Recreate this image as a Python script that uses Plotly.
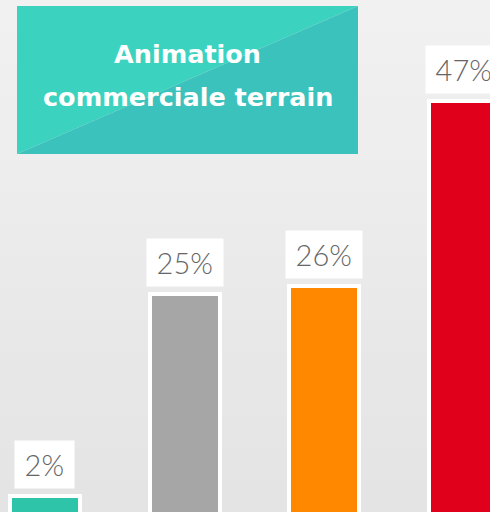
import plotly.graph_objects as go

categories = ["A", "B", "C", "D"]
values = [2, 25, 26, 47]
labels = ["2%", "25%", "26%", "47%"]
colors = ["#2ec4a9", "#a6a6a6", "#ff8800", "#e0001b"]
title_lines = ["Animation", "commerciale terrain"]

W, H = 490, 512


def px_x(p):
    return p / W


def px_y(p):
    return 1 - p / H


fig = go.Figure(
    go.Bar(
        x=categories,
        y=values,
        width=0.5,
        marker=dict(color=colors, line=dict(color="white", width=4)),
        hoverinfo="skip",
    )
)

# background: soft vertical gradient made of bands
shapes = []
n_bands = 16
top, bottom = (0xF1, 0xF1, 0xF1), (0xE4, 0xE4, 0xE4)
for i in range(n_bands):
    t = i / (n_bands - 1)
    c = tuple(round(a + (b - a) * t) for a, b in zip(top, bottom))
    shapes.append(
        dict(
            type="rect", xref="paper", yref="paper", layer="below",
            x0=0, x1=1, y0=1 - (i + 1) / n_bands, y1=1 - i / n_bands,
            fillcolor="rgb(%d,%d,%d)" % c, line_width=0,
        )
    )

# title box, split along its diagonal
bx0, bx1, by0, by1 = px_x(17), px_x(358), px_y(6), px_y(154)
shapes.append(
    dict(
        type="path", xref="paper", yref="paper",
        path=f"M {bx0},{by1} L {bx0},{by0} L {bx1},{by0} Z",
        fillcolor="#3bd3bf", line_width=0,
    )
)
shapes.append(
    dict(
        type="path", xref="paper", yref="paper",
        path=f"M {bx0},{by1} L {bx1},{by1} L {bx1},{by0} Z",
        fillcolor="#3bc2bd", line_width=0,
    )
)

annotations = [
    dict(
        x=c, y=v, text="\u2009" + t + "\u2009", showarrow=False,
        yanchor="bottom", yshift=7, bgcolor="white", borderpad=6,
        font=dict(family="Lato", weight=300, size=29, color="#666666"),
    )
    for c, v, t in zip(categories, values, labels)
]
for line, ypx in zip(title_lines, [54, 97]):
    annotations.append(
        dict(
            x=(bx0 + bx1) / 2, y=px_y(ypx), xref="paper", yref="paper",
            xanchor="center", yanchor="middle", text=line, showarrow=False,
            font=dict(family="DejaVu Sans", weight="bold", size=25.5,
                      color="white"),
        )
    )

fig.update_layout(
    width=W,
    height=H,
    margin=dict(l=0, r=0, t=0, b=0),
    paper_bgcolor="#ececec",
    plot_bgcolor="rgba(0,0,0,0)",
    showlegend=False,
    bargap=0,
    shapes=shapes,
    annotations=annotations,
    xaxis=dict(visible=False, range=[-0.321, 3.186]),
    yaxis=dict(visible=False, range=[0.228, 58.5]),
)

fig.write_html(
    "out.html",
    config={"displayModeBar": False},
    post_script="document.body.style.margin='0';",
)
